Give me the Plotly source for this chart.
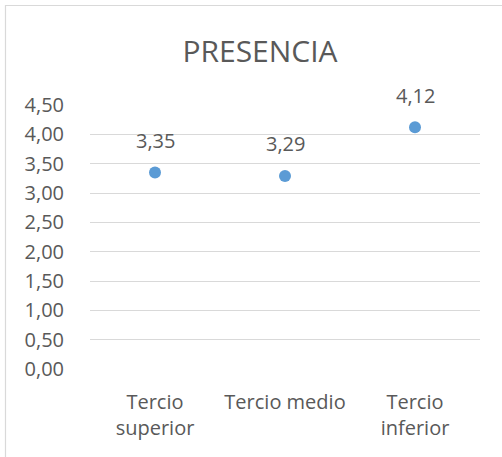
import plotly.graph_objects as go

categories = ["Tercio<br>superior", "Tercio medio", "Tercio<br>inferior"]
values = [3.35, 3.29, 4.12]
y_ticks = [0, 0.5, 1.0, 1.5, 2.0, 2.5, 3.0, 3.5, 4.0, 4.5]
title_text = "PRESENCIA"

W, H = 502, 457
L, R, T, B = 90, 22, 105, 88
pw, ph = W - L - R, H - T - B

font_family = "Open Sans, Liberation Sans, sans-serif"
text_color = "#595959"

fig = go.Figure()
fig.add_trace(go.Scatter(
    x=categories, y=values, mode="markers",
    marker=dict(color="#5B9BD5", size=12),
    hoverinfo="skip", showlegend=False,
))

for c, v in zip(categories, values):
    fig.add_annotation(
        x=c, y=v, xref="x", yref="y",
        text=f"{v:.2f}".replace(".", ","),
        showarrow=False, yshift=32,
        font=dict(family=font_family, size=20, color=text_color),
    )

# chart border (left/top visible, rest runs off the image)
fig.add_shape(
    type="rect", xref="paper", yref="paper",
    x0=(5.5 - L) / pw, x1=1.3,
    y0=-0.6, y1=(H - B - 5.5) / ph,
    line=dict(color="#D9D9D9", width=1.2), fillcolor="rgba(0,0,0,0)",
    layer="below",
)

fig.update_layout(
    width=W, height=H,
    margin=dict(l=L, r=R, t=T, b=B),
    paper_bgcolor="white", plot_bgcolor="white",
    separators=",.",
    title=dict(
        text=title_text, x=260 / W, xanchor="center", xref="container",
        y=1 - 51 / H, yanchor="middle", yref="container",
        font=dict(family=font_family, size=30, color=text_color),
    ),
    xaxis=dict(
        range=[-0.5, 2.5], showgrid=False, zeroline=False, showline=False,
        ticks="", ticklabelstandoff=19,
        tickfont=dict(family=font_family, size=20, color=text_color),
        fixedrange=True,
    ),
    yaxis=dict(
        range=[0, 4.5], tickvals=y_ticks, tickformat=".2f",
        showgrid=True, gridcolor="#D9D9D9", gridwidth=1.3,
        zeroline=False, showline=False, ticks="",
        ticklabelstandoff=25,
        tickfont=dict(family=font_family, size=20, color=text_color),
        fixedrange=True,
    ),
)

fig.write_html("out.html")
